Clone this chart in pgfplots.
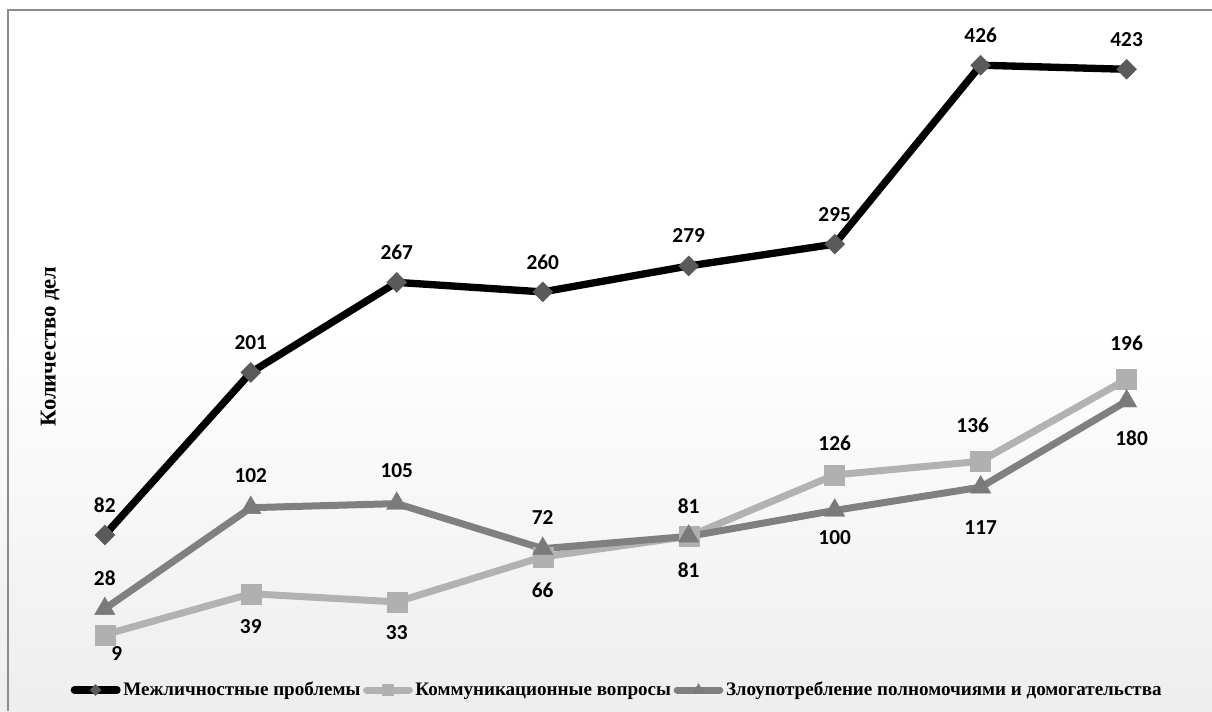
\documentclass[border=0pt]{standalone}
\usepackage{fontspec}
\setmainfont{Liberation Serif}
\newfontfamily\lblfont{Carlito}
\usepackage{pgfplots}
\usepackage{pgfplotstable}
\pgfplotsset{compat=1.18}

\definecolor{framegray}{HTML}{8C8C8C}
\definecolor{bgB}{HTML}{E2E2E2}
\definecolor{bgM}{HTML}{E6E6E6}
\definecolor{diam}{HTML}{5A5A5A}
\definecolor{sqline}{HTML}{B2B2B2}
\definecolor{sqmark}{HTML}{B0B0B0}
\definecolor{triline}{HTML}{808080}
\definecolor{trimark}{HTML}{7A7A7A}

\pgfdeclareverticalshading{chartbg}{100bp}{color(0bp)=(bgB); color(13bp)=(bgM); color(52bp)=(white); color(100bp)=(white)}

% x = period index, y = number of cases, dx/dy = label offset (pt)
\pgfplotstableread{
x y dx dy
0 82 0 22.5
1 201 0 22.5
2 267 0 22.5
3 260 0 22.5
4 279 0 22.5
5 295 0 22.5
6 426 0 22.5
7 423 0 22.5
}\interpersonal

\pgfplotstableread{
x y dx dy
0 9 9 -14.25
1 39 0 -24.75
2 33 0 -23.25
3 66 0 -24.75
4 81 0 -25.5
5 126 0 24
6 136 -6 27
7 196 0 27
}\communication

\pgfplotstableread{
x y dx dy
0 28 0 23.25
1 102 0 24
2 105 0 24.75
3 72 0 23.25
4 81 0 22.5
5 100 0 -20.25
6 117 0 -30
7 180 3.75 -27.75
}\abuse

\begin{document}
\begin{tikzpicture}
\begin{axis}[
  at={(0,0)}, anchor=south west,
  scale only axis, width=909pt, height=533.25pt,
  xmin=-0.718, xmax=7.585, ymin=-46.86, ymax=473.75,
  axis line style={draw=none}, xtick=\empty, ytick=\empty,
  clip=false,
  ylabel={Количество дел},
  ylabel style={at={(rel axis cs:0.0413,0.513)}, anchor=center,
    font=\fontsize{17}{19}\selectfont\bfseries},
  legend style={at={(rel axis cs:0.5095,0.0295)}, anchor=center,
    draw=none, fill=none, legend columns=-1,
    font=\fontsize{14.3}{16}\selectfont\bfseries,
    nodes={inner xsep=2pt, inner ysep=0pt}},
  legend image code/.code={
    \draw[#1, line cap=round, mark repeat=2, mark phase=2,
      every mark/.append style={scale=0.55}]
      plot coordinates {(0pt,0pt) (16pt,0pt) (32pt,0pt)};
  },
  nodes near coords={\pgfmathprintnumber[assume math mode=true]{\pgfplotspointmeta}},
  visualization depends on={\thisrow{dx} \as \dx},
  visualization depends on={\thisrow{dy} \as \dy},
  nodes near coords style={anchor=center, xshift=\dx pt, yshift=\dy pt,
    text=black, font=\lblfont\fontsize{16}{19}\selectfont\bfseries},
]
% chart area: white top fading into light gray, framed on the left and top
\shade[shading=chartbg] (rel axis cs:0,0) rectangle (rel axis cs:1,1);
\draw[framegray, line width=1.3pt]
  (rel axis cs:0.0066,0) -- (rel axis cs:0.0066,0.986) -- (rel axis cs:1,0.986);

\addplot[black, line width=5.5pt, mark=square*, mark size=5.3pt,
  mark options={solid, rotate=45, fill=diam, draw=diam, line width=0.3pt}]
  table[x=x, y=y] {\interpersonal};
\addlegendentry{Межличностные проблемы}

\addplot[sqline, line width=5.25pt, mark=square*, mark size=7.5pt,
  mark options={solid, fill=sqmark, draw=sqmark, line width=0.3pt}]
  table[x=x, y=y] {\communication};
\addlegendentry{Коммуникационные вопросы}

\addplot[triline, line width=5.25pt, mark=triangle*, mark size=8.8pt,
  mark options={solid, fill=trimark, draw=trimark, line width=0.3pt}]
  table[x=x, y=y] {\abuse};
\addlegendentry{Злоупотребление полномочиями и домогательства}
\end{axis}
\pgfresetboundingbox
\path (0,0) rectangle (909pt,533.25pt);
\end{tikzpicture}
\end{document}
